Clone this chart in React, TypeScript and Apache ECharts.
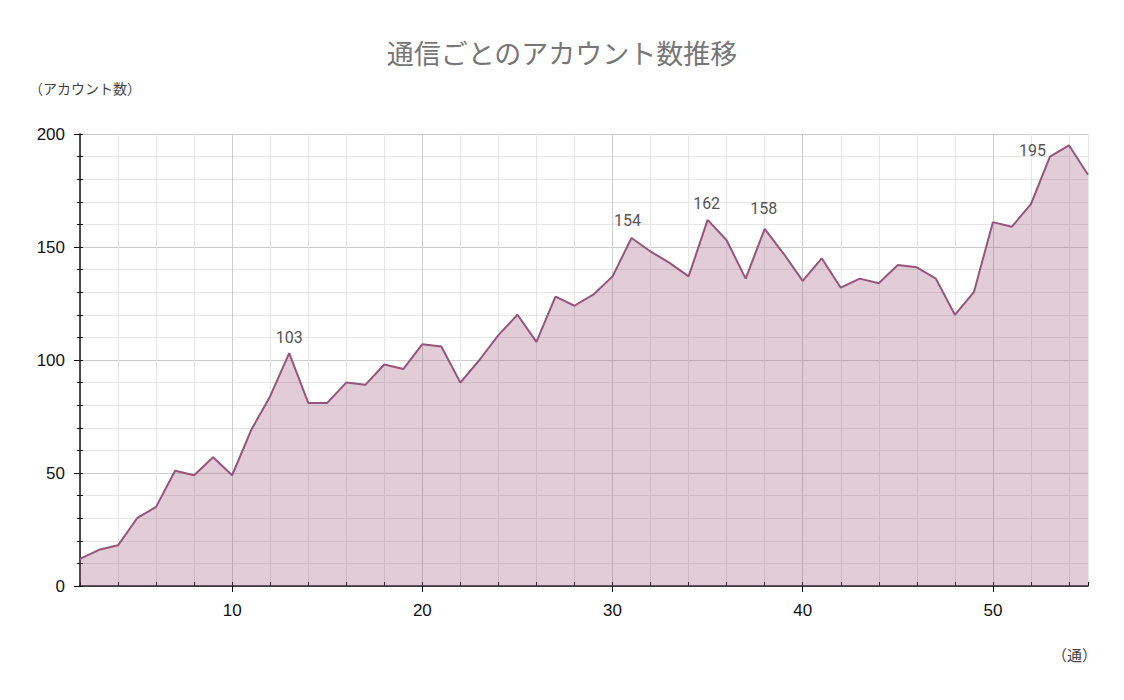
import React, { useEffect, useRef } from "react";
import * as echarts from "echarts";

const titleText = "通信ごとのアカウント数推移";
const yName = "（アカウント数）";
const xName = "（通）";
const xValues = [2,3,4,5,6,7,8,9,10,11,12,13,14,15,16,17,18,19,20,21,22,23,24,25,26,27,28,29,30,31,32,33,34,35,36,37,38,39,40,41,42,43,44,45,46,47,48,49,50,51,52,53,54,55];
const accounts = [12,16,18,30,35,51,49,57,49,69,84,103,81,81,90,89,98,96,107,106,90,100,111,120,108,128,124,129,137,154,148,143,137,162,153,136,158,147,135,145,132,136,134,142,141,136,120,130,161,159,169,190,195,182];
const labeledX = [13, 31, 35, 38, 54];
const xMajorTicks = [10, 20, 30, 40, 50];

export default function App() {
  const ref = useRef<HTMLDivElement>(null);
  useEffect(() => {
    document.body.style.margin = "0";
    const chart = echarts.init(ref.current!, null, { renderer: "svg" });
    const minorColor = "#e6e6e6";
    const majorColor = "#cdcdcd";
    const labelOffsets: Record<number, number[]> = { 13: [0, 0], 31: [-4, -1], 35: [-1, 0], 38: [-1, -4] };
    const data = xValues.map((x, i) => {
      const v = accounts[i];
      if (!labeledX.includes(x)) return { value: [x, v] };
      if (x === 54) {
        return { value: [x, v], label: { show: true, position: "left", distance: 23, offset: [0, 5] } };
      }
      return { value: [x, v], label: { show: true, position: "top", distance: 8, offset: labelOffsets[x] } };
    });
    chart.setOption({
      animation: false,
      title: {
        text: titleText,
        left: "center",
        top: 34,
        textStyle: { fontSize: 27, fontWeight: "normal", color: "#777777", fontFamily: "Noto Sans CJK JP" },
      },
      grid: { left: 80, right: 36, top: 134, bottom: 114 },
      graphic: [
        { type: "text", left: 29, top: 81, style: { text: yName, fontSize: 14, fill: "#444", fontFamily: "Noto Sans CJK JP" } },
        { type: "text", left: 1052, top: 647, style: { text: xName, fontSize: 15, fill: "#444", fontFamily: "Noto Sans CJK JP" } },
      ],
      xAxis: [
        {
          type: "value", min: 2, max: 55, interval: 2,
          axisLine: { show: true, lineStyle: { color: "#111", width: 1.5 } },
          axisTick: { show: true, inside: true, length: 4, lineStyle: { color: "#111" } },
          axisLabel: { show: false },
          splitLine: { show: true, lineStyle: { color: [minorColor, minorColor, minorColor, minorColor, majorColor] } },
        },
        {
          type: "value", min: 2, max: 55, position: "bottom", offset: 0,
          axisLine: { show: false },
          axisTick: { show: true, inside: false, length: 6, customValues: xMajorTicks, lineStyle: { color: "#111" } },
          axisLabel: { show: true, customValues: xMajorTicks, margin: 16, fontSize: 17, color: "#111", fontFamily: "Liberation Sans" },
          splitLine: { show: false },
        },
      ],
      yAxis: [
        {
          type: "value", min: 0, max: 200, interval: 10, position: "left", offset: 0,
          axisLine: { show: true, lineStyle: { color: "#111", width: 1.5 } },
          axisTick: { show: true, inside: false, length: 3, lineStyle: { color: "#111" } },
          axisLabel: { show: false },
          splitLine: { show: true, lineStyle: { color: [majorColor, minorColor, minorColor, minorColor, minorColor] } },
        },
        {
          type: "value", min: 0, max: 200, interval: 50, position: "left", offset: 0,
          axisLine: { show: false },
          axisTick: { show: true, inside: false, length: 6, lineStyle: { color: "#111" } },
          axisLabel: { show: true, margin: 15, fontSize: 17, color: "#111", fontFamily: "Liberation Sans" },
          splitLine: { show: false },
        },
        {
          type: "value", min: 0, max: 200, interval: 10, position: "left", offset: 0,
          axisLine: { show: false },
          axisTick: { show: true, inside: true, length: 3, lineStyle: { color: "#111" } },
          axisLabel: { show: false },
          splitLine: { show: false },
        },
      ],
      series: [
        {
          type: "line",
          xAxisIndex: 0,
          yAxisIndex: 0,
          data,
          showSymbol: true,
          symbol: "circle",
          symbolSize: 0,
          lineStyle: { color: "#94577a", width: 2 },
          itemStyle: { color: "#94577a" },
          areaStyle: { color: "rgba(160,85,125,0.3)", opacity: 1 },
          label: { show: false, color: "#555", fontSize: 16, fontFamily: "Roboto" },
          z: 1,
        },
      ],
    });
    return () => chart.dispose();
  }, []);
  return <div ref={ref} style={{ width: 1124, height: 700 }} />;
}
